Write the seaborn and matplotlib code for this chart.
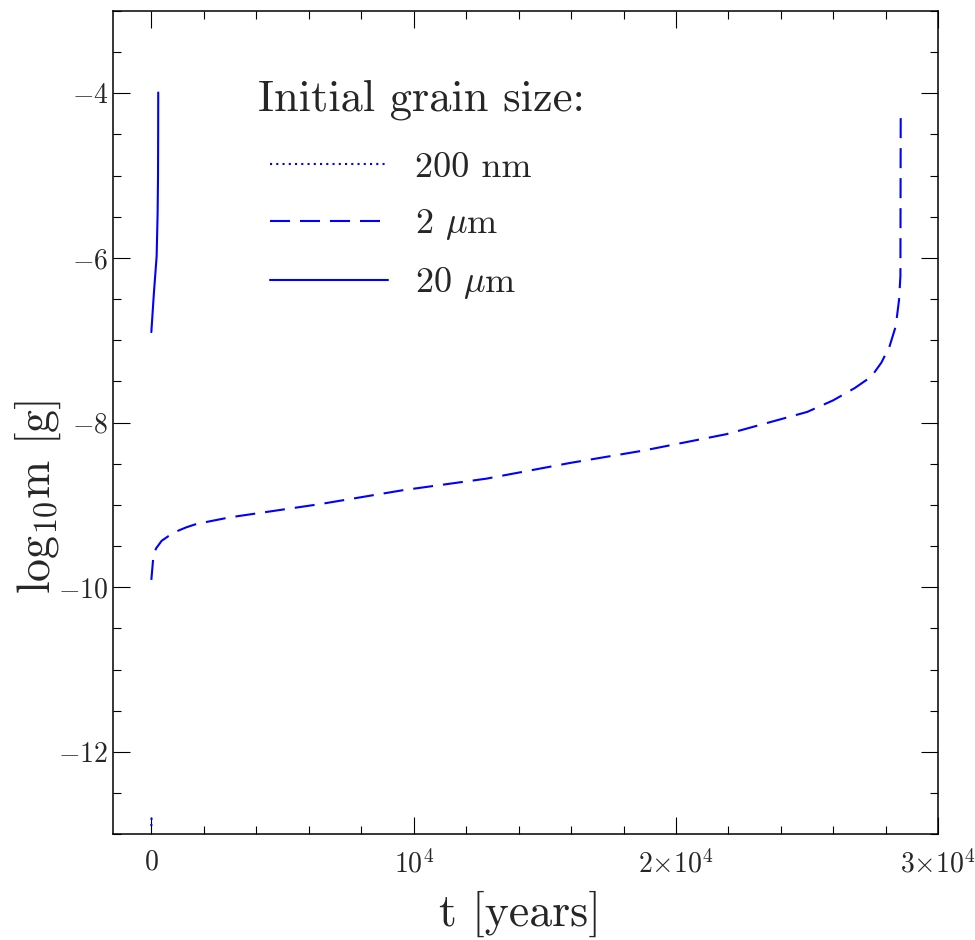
import matplotlib
matplotlib.use("Agg")
import matplotlib.pyplot as plt
from matplotlib.ticker import MultipleLocator, FixedLocator
import seaborn as sns

# ---- data ----
t_200nm = [0, 10]
m_200nm = [-12.90, -12.78]

t_2um = [0, 72, 175, 393, 644, 964, 1345, 1726, 2996, 6417, 9600, 12778,
         15953, 18746, 21925, 25000, 25987, 26814, 27451, 27832, 28145,
         28377, 28503, 28556, 28567]
m_2um = [-9.91, -9.645, -9.53, -9.435, -9.38, -9.32, -9.27, -9.23, -9.15,
         -8.99, -8.82, -8.68, -8.49, -8.34, -8.14, -7.87, -7.73, -7.58,
         -7.44, -7.27, -7.07, -6.83, -6.51, -6.22, -4.22]

t_20um = [0, 99, 202, 240, 255, 260, 263]
m_20um = [-6.90, -6.42, -5.98, -5.45, -5.00, -4.50, -3.99]

series_labels = ["200 nm", r"2 $\mu$m", r"20 $\mu$m"]
legend_title = "Initial grain size:"

xtick_vals = [0, 10000, 20000, 30000]
xtick_labels = ["0", r"$10^4$", r"$2{\times}10^4$", r"$3{\times}10^4$"]
ytick_vals = [-12, -10, -8, -6, -4]
ytick_labels = [r"$-12$", r"$-10$", r"$-8$", r"$-6$", r"$-4$"]

# ---- style ----
sns.set_style("ticks")
plt.rcParams["font.family"] = ["cmr10", "DejaVu Serif"]
plt.rcParams["mathtext.fontset"] = "cm"
plt.rcParams["axes.formatter.use_mathtext"] = True

fig = plt.figure(figsize=(9.75, 9.4), dpi=100)
ax = fig.add_axes([113.3 / 975, 1 - 834.3 / 940, 825 / 975, 823.3 / 940])

blue = "#0000ff"
lw = 1.5
sns.lineplot(x=t_200nm, y=m_200nm, ax=ax, color=blue, lw=lw,
             linestyle=(0, (1, 2)), estimator=None, sort=False,
             label=series_labels[0])
sns.lineplot(x=t_2um, y=m_2um, ax=ax, color=blue, lw=lw,
             linestyle=(0, (9.6, 4.8)), estimator=None, sort=False,
             label=series_labels[1])
sns.lineplot(x=t_20um, y=m_20um, ax=ax, color=blue, lw=lw,
             linestyle="-", estimator=None, sort=False,
             label=series_labels[2])

ax.set_xlim(-1450, 30000)
ax.set_ylim(-13, -3)

ax.xaxis.set_major_locator(FixedLocator(xtick_vals))
ax.set_xticklabels(xtick_labels)
ax.xaxis.set_minor_locator(MultipleLocator(2000))
ax.yaxis.set_major_locator(FixedLocator(ytick_vals))
ax.set_yticklabels(ytick_labels)
ax.yaxis.set_minor_locator(MultipleLocator(0.5))

ax.tick_params(which="both", direction="in", top=True, right=True,
               width=0.8, color="black")
ax.tick_params(which="major", length=12)
ax.tick_params(which="minor", length=5.8)
ax.tick_params(axis="x", which="major", labelsize=20, pad=11)
ax.tick_params(axis="y", which="major", labelsize=20, pad=3.5)

for s in ax.spines.values():
    s.set_linewidth(1.1)
    s.set_color("black")

ax.set_xlabel("t [years]", fontsize=33)
ax.xaxis.set_label_coords(0.493, -0.097)
ax.xaxis.label.set_va("center")
ax.set_ylabel(r"log$_{10}$m [g]", fontsize=33)
ax.yaxis.set_label_coords(-0.092, 0.41)
ax.yaxis.label.set_va("center")

handles = ax.get_lines()[:3]
leg = ax.legend(handles, series_labels, title=legend_title,
                loc="upper left", bbox_to_anchor=(0.175, 0.917),
                frameon=False, fontsize=26, title_fontsize=32,
                handlelength=3.25, handletextpad=0.75, labelspacing=0.64,
                borderaxespad=0, borderpad=0, alignment="left")
leg._legend_handle_box.pad = 9
leg._legend_box.sep = 14

fig.savefig("out.png", dpi=100)
